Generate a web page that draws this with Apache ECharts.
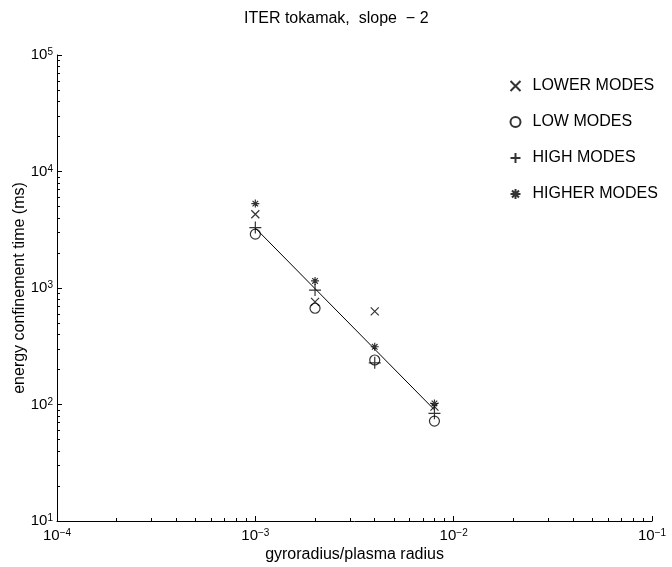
<!DOCTYPE html>
<html>
<head>
<meta charset="utf-8">
<script src="https://cdn.jsdelivr.net/npm/echarts@6/dist/echarts.min.js"></script>
<style>
  html, body { margin: 0; padding: 0; background: #fff; }
  #chart { width: 672px; height: 567px; }
</style>
</head>
<body>
<div id="chart"></div>
<script>
// gyroradius / plasma radius
const xValues = [1e-3, 2e-3, 4e-3, 8e-3]
// energy confinement time (ms)
const lowerModes = [4300, 760, 630, 96]
const lowModes = [2900, 670, 241, 72]
const highModes = [3300, 960, 228, 84]
const higherModes = [5300, 1150, 313, 102]
// fitted line
const fitX = [1e-3, 8e-3]
const fitY = [3270, 90]

const FONT = 'Liberation Sans'

// 标记形状
const symbols = {
  cross: 'path://M0,0L10,10M10,0L0,10',
  plus: 'path://M5,0L5,10M0,5L10,5',
  star: 'path://M5,0L5,10M0,5L10,5M1.5,1.5L8.5,8.5M8.5,1.5L1.5,8.5',
}

function pairs (xs, ys) {
  return xs.map((x, i) => [x, ys[i]])
}

function powLabel (value) {
  const e = Math.round(Math.log10(value))
  return '{b|10}{e|' + String(e).replace('-', '\u2212') + '}'
}

const richLabel = {
  b: { fontFamily: FONT, fontSize: 15, color: '#000', lineHeight: 15, verticalAlign: 'bottom' },
  e: { fontFamily: FONT, fontSize: 10, color: '#000', lineHeight: 11, padding: [0, 0, 7, 0], verticalAlign: 'top' },
}

function scatter (name, data, symbol, size) {
  return {
    name: name,
    type: 'scatter',
    data: pairs(xValues, data),
    symbol: symbol,
    symbolSize: size,
    itemStyle: { color: 'none', borderColor: '#000', borderWidth: 1.2 },
    emphasis: { disabled: true },
    z: 3,
  }
}

const chart = echarts.init(document.getElementById('chart'))

const option = {
  animation: false,
  backgroundColor: '#fff',
  title: {
    text: 'ITER tokamak,  slope  \u2212 2',
    left: 244,
    top: 11,
    padding: 0,
    textStyle: { fontFamily: FONT, fontSize: 16, fontWeight: 'normal', color: '#000' },
  },
  legend: {
    orient: 'vertical',
    left: 508,
    top: 77,
    padding: 0,
    itemGap: 18,
    itemWidth: 10,
    itemHeight: 10,
    textStyle: { fontFamily: FONT, fontSize: 16, color: '#000', padding: [0, 0, 0, 7], lineHeight: 18 },
    data: ['LOWER MODES', 'LOW MODES', 'HIGH MODES', 'HIGHER MODES'],
  },
  grid: { left: 57, right: 20, top: 55, bottom: 46, outerBoundsMode: 'none', containLabel: false },
  xAxis: {
    type: 'log',
    min: 1e-4,
    max: 1e-1,
    name: 'gyroradius/plasma radius',
    nameLocation: 'middle',
    nameGap: 26,
    nameMoveOverlap: false,
    nameTextStyle: { fontFamily: FONT, fontSize: 16, color: '#000' },
    axisLine: { lineStyle: { color: '#000', width: 1 } },
    axisTick: { inside: true, length: 5, lineStyle: { color: '#000' } },
    minorTick: { show: true, splitNumber: 9, length: 3, lineStyle: { color: '#000' } },
    splitLine: { show: false },
    axisLabel: { margin: 7, formatter: powLabel, rich: richLabel },
  },
  yAxis: {
    type: 'log',
    min: 10,
    max: 1e5,
    name: 'energy confinement time (ms)',
    nameLocation: 'middle',
    nameGap: 29,
    nameMoveOverlap: false,
    nameTextStyle: { fontFamily: FONT, fontSize: 16, color: '#000' },
    axisLine: { lineStyle: { color: '#000', width: 1 } },
    axisTick: { inside: true, length: 5, lineStyle: { color: '#000' } },
    minorTick: { show: true, splitNumber: 9, length: 3, lineStyle: { color: '#000' } },
    splitLine: { show: false },
    axisLabel: { margin: 4, formatter: powLabel, rich: richLabel },
  },
  series: [
    scatter('LOWER MODES', lowerModes, symbols.cross, 8),
    scatter('LOW MODES', lowModes, 'circle', 10),
    scatter('HIGH MODES', highModes, symbols.plus, 12),
    scatter('HIGHER MODES', higherModes, symbols.star, 8),
    {
      name: 'fit',
      type: 'line',
      data: pairs(fitX, fitY),
      symbol: 'none',
      lineStyle: { color: '#000', width: 1 },
      emphasis: { disabled: true },
      z: 2,
    },
  ],
}

chart.setOption(option)
</script>
</body>
</html>
